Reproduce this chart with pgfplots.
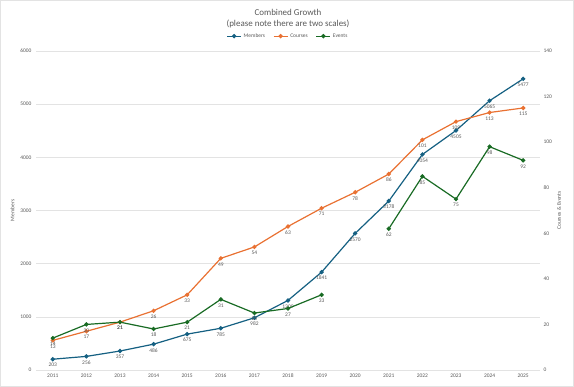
\documentclass[border=0pt]{standalone}
\usepackage{fontspec}
\setmainfont{Carlito}
\usepackage{pgfplots}
\pgfplotsset{compat=1.18}
\definecolor{mem}{HTML}{156082}
\definecolor{crs}{HTML}{E97132}
\definecolor{evt}{HTML}{196B24}
\definecolor{txt}{HTML}{595959}
\definecolor{grd}{HTML}{E3E3E3}
\newcommand{\sm}{\fontsize{5.5}{6.6}\selectfont}
\pgfplotsset{
  base/.style={
    at={(0,0)}, anchor=south west, scale only axis,
    width=504bp, height=319bp,
    xmin=2010.5, xmax=2025.5,
    axis line style={draw=none}, major tick style={draw=none},
    tick label style={font=\sm, text=txt},
    /pgf/number format/assume math mode=true,
    /pgf/number format/1000 sep={},
    clip=false,
  },
  lab/.style={nodes near coords, every node near coord/.append style={anchor=north, font=\sm, text=txt, inner sep=1bp, yshift=-2.5bp}},
}
\begin{document}
\begin{tikzpicture}
\useasboundingbox (-36bp,-17bp) rectangle (538bp,370bp);
\draw[grd, line width=0.8bp] (-35.6bp,-16.6bp) rectangle (537.6bp,369.6bp);
\begin{axis}[base,
  ymin=0, ymax=6000, ytick={0,1000,...,6000},
  xtick={2011,...,2025},
  ymajorgrids, grid style={grd, line width=0.6bp},
  yticklabel style={xshift=-1bp},
]
\addplot[mem, line width=1.2bp, mark=*, mark size=1.5bp, lab] coordinates {
(2011,203) (2012,256) (2013,357) (2014,486) (2015,675) (2016,785) (2017,982) (2018,1309)
(2019,1841) (2020,2570) (2021,3178) (2022,4054) (2023,4505) (2024,5065) (2025,5477)};
\end{axis}
\begin{axis}[base,
  ymin=0, ymax=140, ytick={0,20,...,140},
  axis y line*=right, hide x axis,
  legend style={at={(0.5,1)}, anchor=south, yshift=8bp, draw=none, fill=none,
    legend columns=3, font=\sm, text=txt,
    /tikz/every even column/.append style={column sep=6bp}},
  legend image code/.code={\draw[mark repeat=2,mark phase=2] plot coordinates {(0bp,0bp)(7bp,0bp)(14bp,0bp)};},
]
\addlegendimage{mem, line width=1.2bp, mark=*, mark size=1.5bp}
\addlegendentry{Members}
\addplot[crs, line width=1.2bp, mark=*, mark size=1.5bp, lab] coordinates {
(2011,13) (2012,17) (2013,21) (2014,26) (2015,33) (2016,49) (2017,54) (2018,63)
(2019,71) (2020,78) (2021,86) (2022,101) (2023,109) (2024,113) (2025,115)};
\addlegendentry{Courses}
\addplot[evt, line width=1.2bp, mark=*, mark size=1.5bp, lab] coordinates {
(2011,14) (2012,20) (2013,21) (2014,18) (2015,21) (2016,31) (2017,25) (2018,27) (2019,33)};
\addlegendentry{Events}
\addplot[evt, line width=1.2bp, mark=*, mark size=1.5bp, lab, forget plot] coordinates {
(2021,62) (2022,85) (2023,75) (2024,98) (2025,92)};
\end{axis}
\node[font=\fontsize{9}{11}\selectfont, text=txt] at (252bp,358bp) {Combined Growth};
\node[font=\fontsize{9}{11}\selectfont, text=txt] at (252bp,346bp) {(please note there are two scales)};
\node[font=\sm, text=txt, rotate=90] at (-23.5bp,159.5bp) {Members};
\node[font=\sm, text=txt, rotate=90] at (523bp,159.5bp) {Courses \& Events};
\end{tikzpicture}
\end{document}
